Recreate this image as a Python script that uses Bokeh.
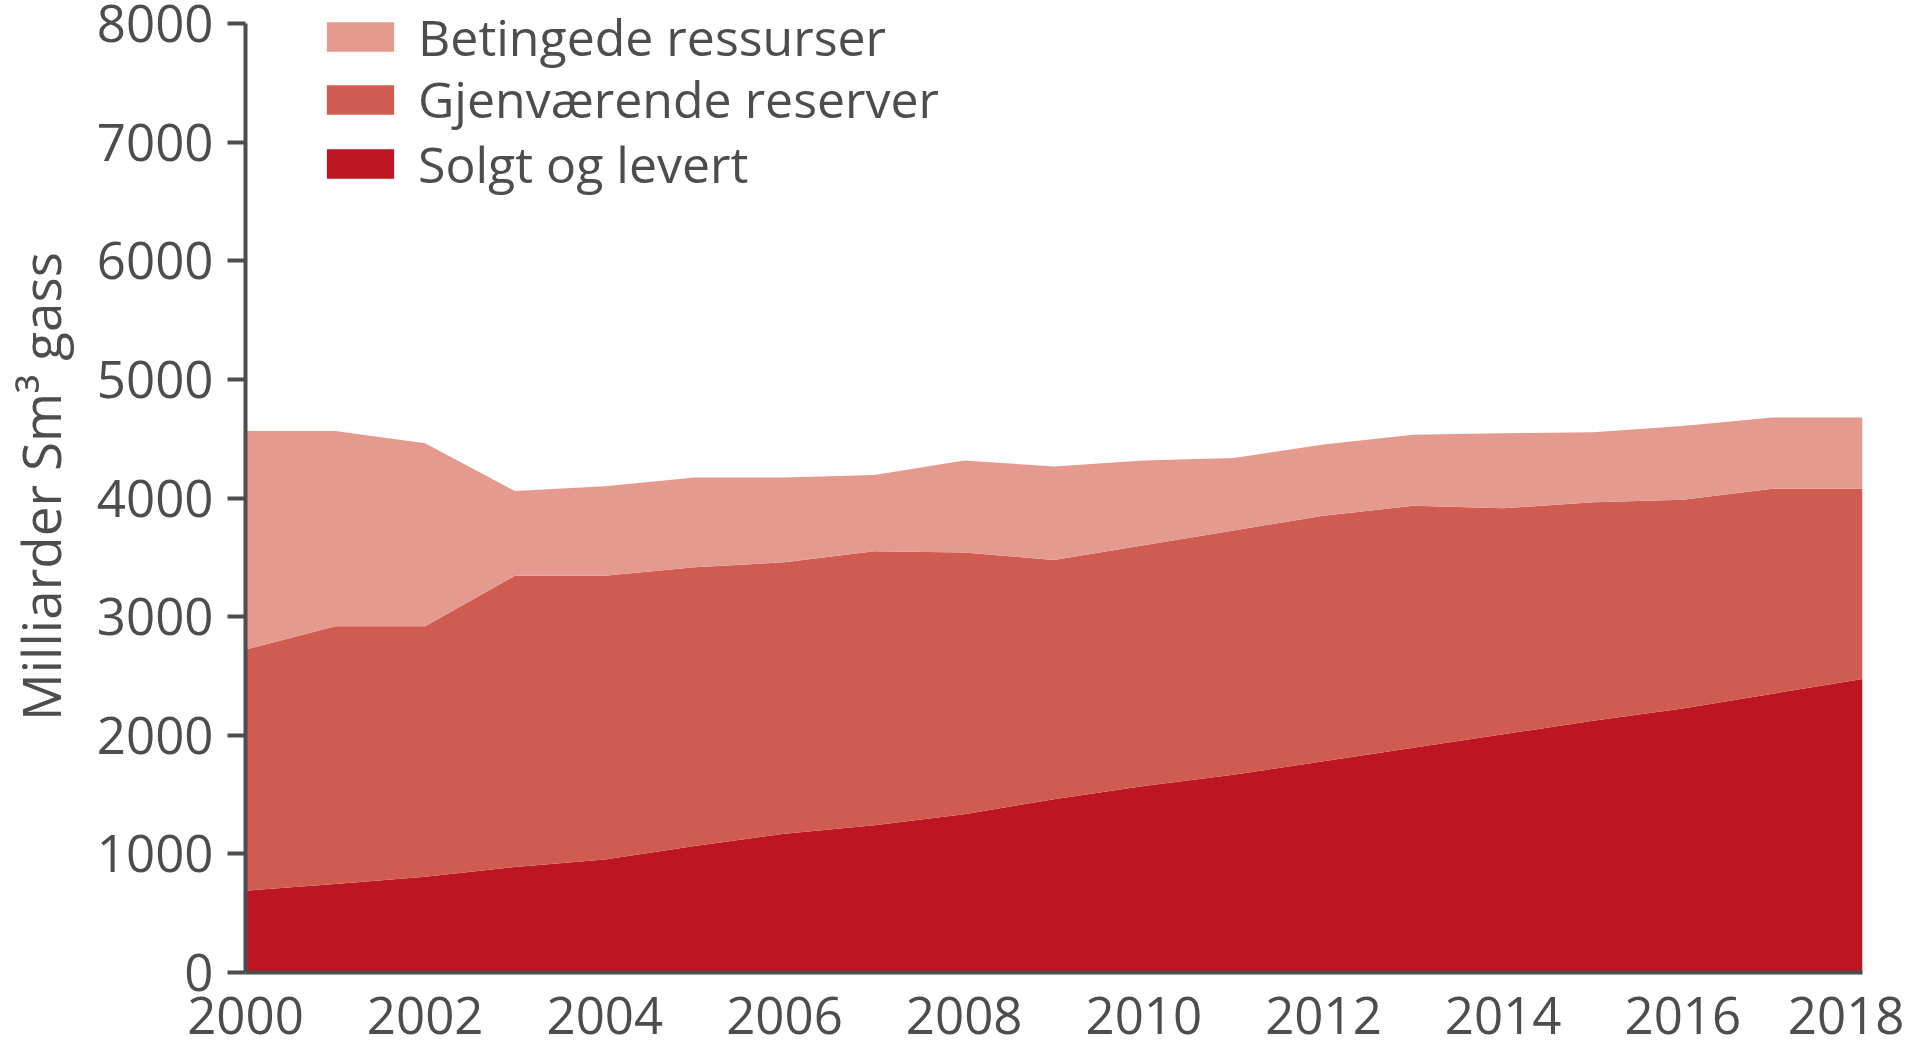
from bokeh.plotting import figure
from bokeh.models import ColumnDataSource, Legend, LegendItem, FixedTicker, Range1d
from bokeh.embed import file_html
from bokeh.resources import INLINE

years = list(range(2000, 2019))
solgt = [690, 745, 807, 890, 952, 1066, 1170, 1242, 1335, 1460, 1573, 1667, 1780, 1894, 2008, 2122, 2226, 2350, 2474]
gjenvaerende = [2032, 2174, 2112, 2454, 2392, 2350, 2288, 2309, 2205, 2018, 2029, 2060, 2071, 2040, 1905, 1843, 1760, 1729, 1605]
betingede = [1843, 1646, 1543, 714, 755, 756, 714, 642, 777, 787, 715, 610, 600, 600, 632, 590, 621, 600, 600]

series_names = ["Solgt og levert", "Gjenværende reserver", "Betingede ressurser"]
colors = ["#BD1622", "#D05B51", "#E59A8F"]
y_ticks = [0, 1000, 2000, 3000, 4000, 5000, 6000, 7000, 8000]
x_ticks = list(range(2000, 2019, 2))

source = ColumnDataSource(dict(year=years, solgt=solgt, gjenv=gjenvaerende, beting=betingede))

FONT = "Open Sans"
TXT = "#4D4D4D"

W, H = 1904, 1050
MBL, MBR, MBT, MBB = 245, 42, 0, 78
FRAME_H = H - MBT - MBB
TOP_PAD = 23  # pixels between frame top and the 8000 line (room for the legend)
y_top = 8000 + TOP_PAD * 8000 / (FRAME_H - TOP_PAD)

p = figure(width=W, height=H, output_backend="svg", toolbar_location=None,
           x_range=Range1d(2000, 2018), y_range=Range1d(0, y_top),
           min_border_left=MBL, min_border_right=MBR, min_border_top=MBT, min_border_bottom=MBB)
p.outline_line_color = None
p.grid.visible = False
p.background_fill_color = "white"

rs = p.varea_stack(stackers=["solgt", "gjenv", "beting"], x="year", color=colors, source=source)

# axes
p.yaxis.ticker = FixedTicker(ticks=y_ticks)
p.xaxis.ticker = FixedTicker(ticks=x_ticks)
p.yaxis.bounds = (0, 8000)
for ax in (p.xaxis, p.yaxis):
    ax.axis_line_color = TXT
    ax.axis_line_width = 4
    ax.major_tick_line_color = TXT
    ax.major_tick_line_width = 4
    ax.minor_tick_line_color = None
    ax.major_label_text_font = FONT
    ax.major_label_text_font_size = "51px"
    ax.major_label_text_color = TXT
    ax.axis_label_text_font = FONT
    ax.axis_label_text_color = TXT
    ax.axis_label_text_font_style = "normal"
p.yaxis.major_tick_out = 18
p.yaxis.major_tick_in = 0
p.yaxis.major_label_standoff = 14
p.xaxis.major_tick_line_color = None
p.xaxis.major_tick_out = 0
p.xaxis.major_tick_in = 0
p.xaxis.major_label_standoff = 24
p.yaxis.axis_label = "Milliarder Sm³ gass"
p.yaxis.axis_label_text_font_size = "53px"
p.yaxis.axis_label_standoff = 17

# one legend per row, so that the row pitch matches the reference
ITEM = 68
row_tops = [2.5, 65, 129.5]
for row, idx in enumerate((2, 1, 0)):
    lg = Legend(items=[LegendItem(label=series_names[idx], renderers=[rs[idx]])],
                location=(73, FRAME_H - row_tops[row] - ITEM),
                orientation="vertical",
                label_text_font=FONT, label_text_font_size="50px", label_text_color=TXT,
                glyph_width=84, glyph_height=37, label_standoff=16, spacing=0,
                padding=0, margin=0, border_line_color=None, background_fill_alpha=0)
    p.add_layout(lg, "center")

open("out.html", "w").write(file_html(p, INLINE))
